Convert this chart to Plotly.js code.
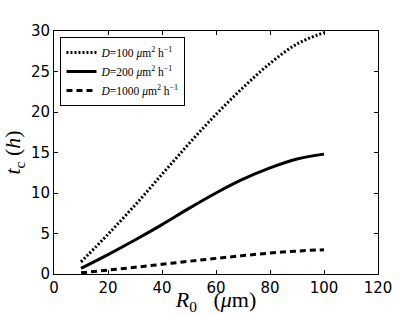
<!DOCTYPE html>
<html>
<head>
<meta charset="utf-8">
<script src="https://cdn.plot.ly/plotly-3.0.1.min.js"></script>
<style>html,body{margin:0;padding:0;background:#fff;}</style>
</head>
<body>
<div id="chart" style="width:420px;height:315px;"></div>
<script>
var radius = [10, 20, 30, 40, 50, 60, 70, 80, 90, 100];
var tD100 = [1.5, 4.9, 8.5, 12.3, 16.1, 19.7, 23.0, 26.0, 28.4, 29.8];
var tD200 = [0.7, 2.4, 4.2, 6.1, 8.1, 10.0, 11.7, 13.1, 14.2, 14.8];
var tD1000 = [0.15, 0.48, 0.83, 1.2, 1.57, 1.93, 2.27, 2.58, 2.83, 3.0];
var seriesNames = [
  '<i>D</i>=100 <i>μ</i>m<sup>2</sup> h<sup>−1</sup>',
  '<i>D</i>=200 <i>μ</i>m<sup>2</sup> h<sup>−1</sup>',
  '<i>D</i>=1000 <i>μ</i>m<sup>2</sup> h<sup>−1</sup>'
];
var xTicks = [0, 20, 40, 60, 80, 100, 120];
var yTicks = [0, 5, 10, 15, 20, 25, 30];

var traces = [
  {x: radius, y: tD100, name: seriesNames[0], mode: 'lines',
   line: {color: '#000', width: 3, dash: '2px,2px', shape: 'spline', smoothing: 1}},
  {x: radius, y: tD200, name: seriesNames[1], mode: 'lines',
   line: {color: '#000', width: 3, shape: 'spline', smoothing: 1}},
  {x: radius, y: tD1000, name: seriesNames[2], mode: 'lines',
   line: {color: '#000', width: 3, dash: '6px,4px', shape: 'spline', smoothing: 1}}
];

var tickFont = {family: 'DejaVu Sans', size: 15, color: '#000'};
var layout = {
  width: 420, height: 315,
  margin: {l: 54, r: 42, t: 31, b: 41},
  paper_bgcolor: '#fff', plot_bgcolor: '#fff',
  showlegend: true,
  legend: {
    x: 0.02, y: 0.975, xanchor: 'left', yanchor: 'top',
    bgcolor: '#fff', bordercolor: '#000', borderwidth: 1,
    font: {family: 'Liberation Serif', size: 11.5, color: '#000'},
    tracegroupgap: 0
  },
  shapes: [{
    type: 'rect', xref: 'paper', yref: 'paper', layer: 'above',
    x0: 0.028, x1: 0.40, y0: 0.72, y1: 0.965,
    fillcolor: '#888', line: {width: 0}
  }],
  xaxis: {
    range: [0, 120], tickvals: xTicks, ticktext: xTicks.map(String),
    showgrid: false, zeroline: false, showline: true, linecolor: '#000', linewidth: 1,
    mirror: 'ticks', ticks: 'inside', ticklen: 4, tickcolor: '#000',
    tickfont: tickFont,
    title: {text: '<i>R</i><sub>0</sub>\u00a0\u00a0\u00a0(<i>μ</i>m)', font: {family: 'Liberation Serif', size: 22, color: '#000'}, standoff: 2}
  },
  yaxis: {
    range: [0, 30], tickvals: yTicks, ticktext: yTicks.map(String),
    showgrid: false, zeroline: false, showline: true, linecolor: '#000', linewidth: 1,
    mirror: 'ticks', ticks: 'inside', ticklen: 4, tickcolor: '#000',
    tickfont: tickFont,
    title: {text: '<i>t</i><sub>c</sub>\u00a0(<i>h</i>)', font: {family: 'Liberation Serif', size: 22, color: '#000'}, standoff: 4}
  }
};

Plotly.newPlot('chart', traces, layout, {displayModeBar: false, staticPlot: true});
</script>
</body>
</html>
